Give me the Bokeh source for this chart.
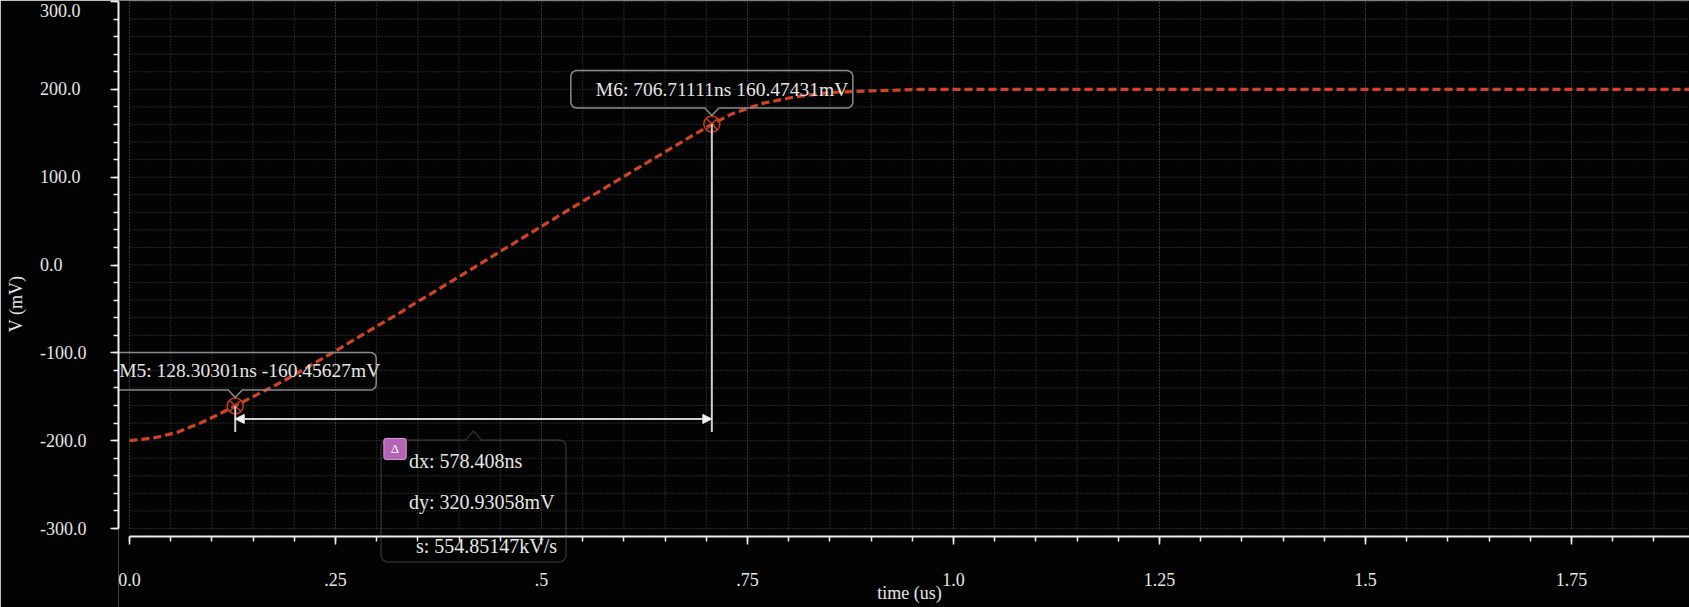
import numpy as np
from bokeh.plotting import figure
from bokeh.models import (Range1d, FixedTicker, Arrow, NormalHead, Label,
                          PolyAnnotation)
from bokeh.core.properties import value
from bokeh.embed import file_html
from bokeh.resources import INLINE

# ---------------- data ----------------
time_us = [0.000, 0.030, 0.058, 0.086, 0.106, 0.128, 0.157, 0.183, 0.216,
           0.248, 0.270, 0.305, 0.329, 0.349, 0.369, 0.410, 0.450, 0.500,
           0.551, 0.604, 0.652, 0.689, 0.707, 0.731, 0.768, 0.808, 0.851,
           0.891, 0.930, 0.960, 1.000, 1.250, 1.500, 1.750, 1.900]
v_mV = [-200.0, -196.8, -190.5, -180.0, -171.0, -160.5, -146.5, -134.0, -116.5,
        -99.0, -86.5, -67.0, -54.0, -42.0, -31.0, -7.5, 15.5, 44.0,
        73.0, 103.0, 130.0, 150.5, 160.5, 172.0, 184.0, 191.5, 196.5,
        198.0, 199.0, 200.0, 200.0, 200.0, 200.0, 200.0, 200.0]

m5_t, m5_v = 0.12830301, -160.45627
m6_t, m6_v = 0.70671111, 160.47431
m5_text = "M5: 128.30301ns -160.45627mV"
m6_text = "M6: 706.71111ns 160.47431mV"
delta_texts = ["dx: 578.408ns", "dy: 320.93058mV", "s: 554.85147kV/s"]

x_ticks = [0.0, 0.25, 0.5, 0.75, 1.0, 1.25, 1.5, 1.75]
x_tick_labels = ["0.0", ".25", ".5", ".75", "1.0", "1.25", "1.5", "1.75"]
x_minor = [round(0.05 * i, 2) for i in range(0, 38)]
y_ticks = [-300, -200, -100, 0, 100, 200, 300]
y_tick_labels = ["-300.0", "-200.0", "-100.0", "0.0", "100.0", "200.0", "300.0"]
y_minor = list(range(-300, 301, 20))

# ---------------- layout ----------------
FIG_W, FIG_H = 1689, 607
FRAME_LEFT = 118
FRAME_W = FIG_W - FRAME_LEFT
FRAME_H = FIG_H
PX_PER_US = 824.0
X_START = -11 / PX_PER_US
X_END = X_START + FRAME_W / PX_PER_US
PX_PER_MV = 527 / 600.0          # 300 mV at 1 px, -300 mV at 528 px from top
Y_END = 300 + 1 / PX_PER_MV
Y_START = Y_END - FRAME_H / PX_PER_MV
AXIS_Y = -300 - 8 / PX_PER_MV     # x axis line 8 px below the -300 gridline

FONT = "Liberation Serif"
TXT = "#e6e6e6"
CURVE = "#cf4423"
BOXLINE = "#8a8a8a"
AXIS = "#eeeeee"
BG = "#030303"


def to_data(ax, ay, pts):
    xs = [ax + px / PX_PER_US for px, py in pts]
    ys = [ay - py / PX_PER_MV for px, py in pts]
    return xs, ys


def rounded_outline(l, r, t, b, rad, notch_side, notch_hw, notch_apex):
    pts = []

    def arc(cx, cy, a0, a1):
        for a in np.linspace(a0, a1, 7):
            pts.append((cx + rad * np.cos(np.radians(a)),
                        cy + rad * np.sin(np.radians(a))))
    arc(l + rad, t + rad, 180, 270)
    if notch_side == "top":
        pts.extend([(-notch_hw, t), (0, notch_apex), (notch_hw, t)])
    arc(r - rad, t + rad, 270, 360)
    arc(r - rad, b - rad, 0, 90)
    if notch_side == "bottom":
        pts.extend([(notch_hw, b), (0, notch_apex), (-notch_hw, b)])
    arc(l + rad, b - rad, 90, 180)
    return pts


p = figure(width=FIG_W, height=FIG_H, output_backend="svg", toolbar_location=None,
           x_range=Range1d(X_START, X_END), y_range=Range1d(Y_START, Y_END),
           min_border_left=FRAME_LEFT, min_border_right=0, min_border_top=0,
           min_border_bottom=0,
           background_fill_color=BG, border_fill_color=BG,
           outline_line_color=None)
p.xgrid.visible = False
p.ygrid.visible = False

# ---------------- axes ----------------
xa = p.xaxis[0]
xa.fixed_location = AXIS_Y
xa.ticker = FixedTicker(ticks=x_ticks, minor_ticks=x_minor)
xa.major_label_overrides = dict(zip(x_ticks, x_tick_labels))
xa.bounds = (0, X_END)
ya = p.yaxis[0]
ya.ticker = FixedTicker(ticks=y_ticks, minor_ticks=y_minor)
pad = {"0.0": "\u2007\u2007\u2006\u2006"}
ya.major_label_overrides = {t: (lab + pad.get(lab, "" if lab.startswith("-") else "\u2006\u2006"))
                            for t, lab in zip(y_ticks, y_tick_labels)}
ya.bounds = (-300, 300)
for ax in (xa, ya):
    ax.axis_line_color = AXIS
    ax.axis_line_width = 2
    ax.major_tick_line_color = AXIS
    ax.minor_tick_line_color = AXIS
    ax.major_tick_line_width = 1.5
    ax.minor_tick_line_width = 1.5
    ax.major_tick_in = 0
    ax.major_tick_out = 8
    ax.minor_tick_in = 0
    ax.minor_tick_out = 5
    ax.major_label_text_font = FONT
    ax.major_label_text_font_size = "18px"
    ax.major_label_text_color = TXT
    ax.axis_label_text_font = FONT
    ax.axis_label_text_font_size = "18px"
    ax.axis_label_text_color = TXT
    ax.axis_label_text_font_style = "normal"
xa.axis_label = "time (us)"
xa.major_label_standoff = 28
xa.axis_label_standoff = -6
ya.axis_label = "V (mV)"
ya.major_label_standoff = 24
ya.axis_label_standoff = 11

# ---------------- grid (dotted) ----------------
xg_minor = [t for t in x_minor if t not in x_ticks]
xg_major = [t for t in x_minor if t in x_ticks]
p.segment(x0=xg_minor, x1=xg_minor, y0=[-300] * len(xg_minor), y1=[Y_END] * len(xg_minor),
          line_color="#4a4a4a", line_width=1, line_dash="1 2")
p.segment(x0=xg_major, x1=xg_major, y0=[-300] * len(xg_major), y1=[Y_END] * len(xg_major),
          line_color="#6a6a6a", line_width=1, line_dash="1 2")
p.segment(x0=[0] * len(y_minor), x1=[X_END] * len(y_minor), y0=y_minor, y1=y_minor,
          line_color="#4a4a4a", line_width=1, line_dash="1 2")

# ---------------- curve ----------------
p.line(time_us, v_mV, line_color=CURVE, line_width=3.2, line_dash="8 4")

# ---------------- markers ----------------
p.scatter([m5_t, m6_t], [m5_v, m6_v], marker="circle_x", size=16,
          fill_color=None, line_color="#c43a1e", line_width=1.5)

for (mt, mv, mtext) in [(m5_t, m5_v, m5_text), (m6_t, m6_v, m6_text)]:
    outline = rounded_outline(-141, 141, -53.5, -16, 6, "bottom", 7, -8.5)
    bx, by = to_data(mt, mv, outline)
    p.patch(bx, by, fill_color=None, line_color=BOXLINE, line_width=1.5)
    tx, ty = to_data(mt, mv, [(-116, -35)])
    p.text(x=tx, y=ty, text=[mtext], text_font=value(FONT), text_font_size="19.5px",
           text_color=TXT, text_align="left", text_baseline="middle")

# ---------------- delta measurement ----------------
arrow_v = m5_v - 13 / PX_PER_MV
vend = arrow_v - 13 / PX_PER_MV
p.segment(x0=[m5_t, m6_t], x1=[m5_t, m6_t], y0=[m5_v, m6_v], y1=[vend, vend],
          line_color="#d0d0d0", line_width=2)
p.add_layout(Arrow(x_start=m5_t, y_start=arrow_v, x_end=m6_t, y_end=arrow_v,
                   line_color="#d0d0d0", line_width=2,
                   start=NormalHead(size=9, fill_color="#f0f0f0", line_color="#f0f0f0"),
                   end=NormalHead(size=9, fill_color="#f0f0f0", line_color="#f0f0f0")))

mid_t = (m5_t + m6_t) / 2
d_out = rounded_outline(-92.5, 92.5, 21, 143, 7, "top", 8, 12)
dxs, dys = to_data(mid_t, arrow_v, d_out)
p.add_layout(PolyAnnotation(xs=dxs, ys=dys, fill_color=None, fill_alpha=0,
                            line_color=BOXLINE, line_width=1.5))

ix, iy = to_data(mid_t, arrow_v, [(-78.5, 30)])
p.add_layout(Label(x=ix[0], y=iy[0], text="Δ", text_font=FONT, text_font_size="13px",
                   text_color="#ffffff", text_align="center", text_baseline="middle",
                   background_fill_color="#b563b5", border_line_color="#d9a0d9",
                   padding=(7, 3), border_radius=2))
for txt, (ox, oy) in zip(delta_texts, [(-64.5, 42), (-64.5, 83), (-57.5, 127)]):
    lx, ly = to_data(mid_t, arrow_v, [(ox, oy)])
    p.add_layout(Label(x=lx[0], y=ly[0], text=txt, text_font=FONT, text_font_size="20px",
                       text_color=TXT, text_align="left", text_baseline="middle"))

open("out.html", "w").write(file_html(p, INLINE))
